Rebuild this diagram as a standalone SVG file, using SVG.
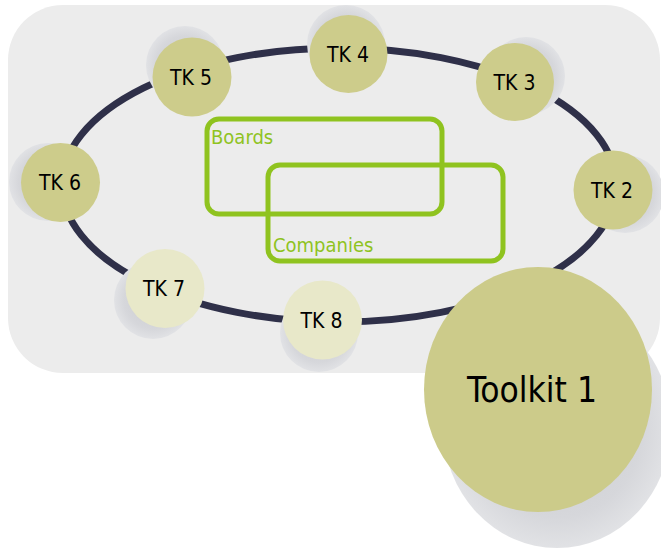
<svg xmlns="http://www.w3.org/2000/svg" width="661" height="553" viewBox="0 0 661 553">
  <style>
    .lbl { font-family: "DejaVu Sans Condensed", "DejaVu Sans", sans-serif; font-stretch: condensed; fill: #000; text-anchor: middle; }
    .tk { font-size: 21px; }
    .big { font-size: 35px; }
    .grp { font-family: "DejaVu Sans Condensed", "DejaVu Sans", sans-serif; font-stretch: condensed; font-size: 20px; fill: #8fc31f; }
    .box { fill: none; stroke: #8fc31f; stroke-width: 5; }
    .dark { fill: #cdcc8b; }
    .light { fill: #e8e8c9; }
    .shadow { fill: url(#sh); }
  </style>
  <defs>
    <radialGradient id="sh" cx="0.5" cy="0.5" r="0.5">
      <stop offset="0" stop-color="#c9cace"/>
      <stop offset="0.75" stop-color="#d6d7db"/>
      <stop offset="1" stop-color="#e1e2e5"/>
    </radialGradient>
  </defs>
  <rect x="0" y="0" width="661" height="553" fill="#ffffff"/>
  <rect id="panel" x="8" y="5" width="652" height="368" rx="55" ry="55" fill="#ececec"/>
  <g id="connectors">
    <ellipse cx="339" cy="185" rx="277" ry="137" fill="none" stroke="#2f3049" stroke-width="7"/>
  </g>
  <g id="boards">
    <rect class="box" x="207" y="119" width="235" height="95" rx="12"/>
    <text class="grp" x="211" y="144">Boards</text>
  </g>
  <g id="companies">
    <rect class="box" x="268" y="165" width="235" height="96" rx="12"/>
    <text class="grp" x="273" y="252">Companies</text>
  </g>
  <g id="tk4">
    <circle class="shadow" cx="346" cy="44" r="39"/>
    <circle class="dark" cx="348.5" cy="54" r="39"/>
    <text class="lbl tk" x="348" y="62">TK 4</text>
  </g>
  <g id="tk5">
    <circle class="shadow" cx="185" cy="65" r="39"/>
    <circle class="dark" cx="192" cy="77" r="39.5"/>
    <text class="lbl tk" x="191" y="85">TK 5</text>
  </g>
  <g id="tk3">
    <circle class="shadow" cx="526" cy="76" r="39"/>
    <circle class="dark" cx="515" cy="82" r="39"/>
    <text class="lbl tk" x="514.5" y="90">TK 3</text>
  </g>
  <g id="tk2">
    <circle class="shadow" cx="625" cy="194" r="39"/>
    <circle class="dark" cx="613" cy="190" r="39.5"/>
    <text class="lbl tk" x="612" y="198">TK 2</text>
  </g>
  <g id="tk6">
    <circle class="shadow" cx="48" cy="182" r="39"/>
    <circle class="dark" cx="60.5" cy="182.5" r="39.5"/>
    <text class="lbl tk" x="60" y="190">TK 6</text>
  </g>
  <g id="tk7">
    <circle class="shadow" cx="153" cy="300" r="39"/>
    <circle class="light" cx="165" cy="288.5" r="39.5"/>
    <text class="lbl tk" x="164" y="296">TK 7</text>
  </g>
  <g id="tk8">
    <circle class="shadow" cx="319" cy="333" r="39"/>
    <circle class="light" cx="322.5" cy="320" r="39.5"/>
    <text class="lbl tk" x="321.5" y="328">TK 8</text>
  </g>
  <g id="toolkit1">
    <ellipse class="shadow" cx="557" cy="426" rx="114" ry="122"/>
    <ellipse cx="538" cy="389.5" rx="114" ry="122.5" fill="#cccb8a"/>
    <text class="lbl big" x="532" y="402">Toolkit 1</text>
  </g>
</svg>
